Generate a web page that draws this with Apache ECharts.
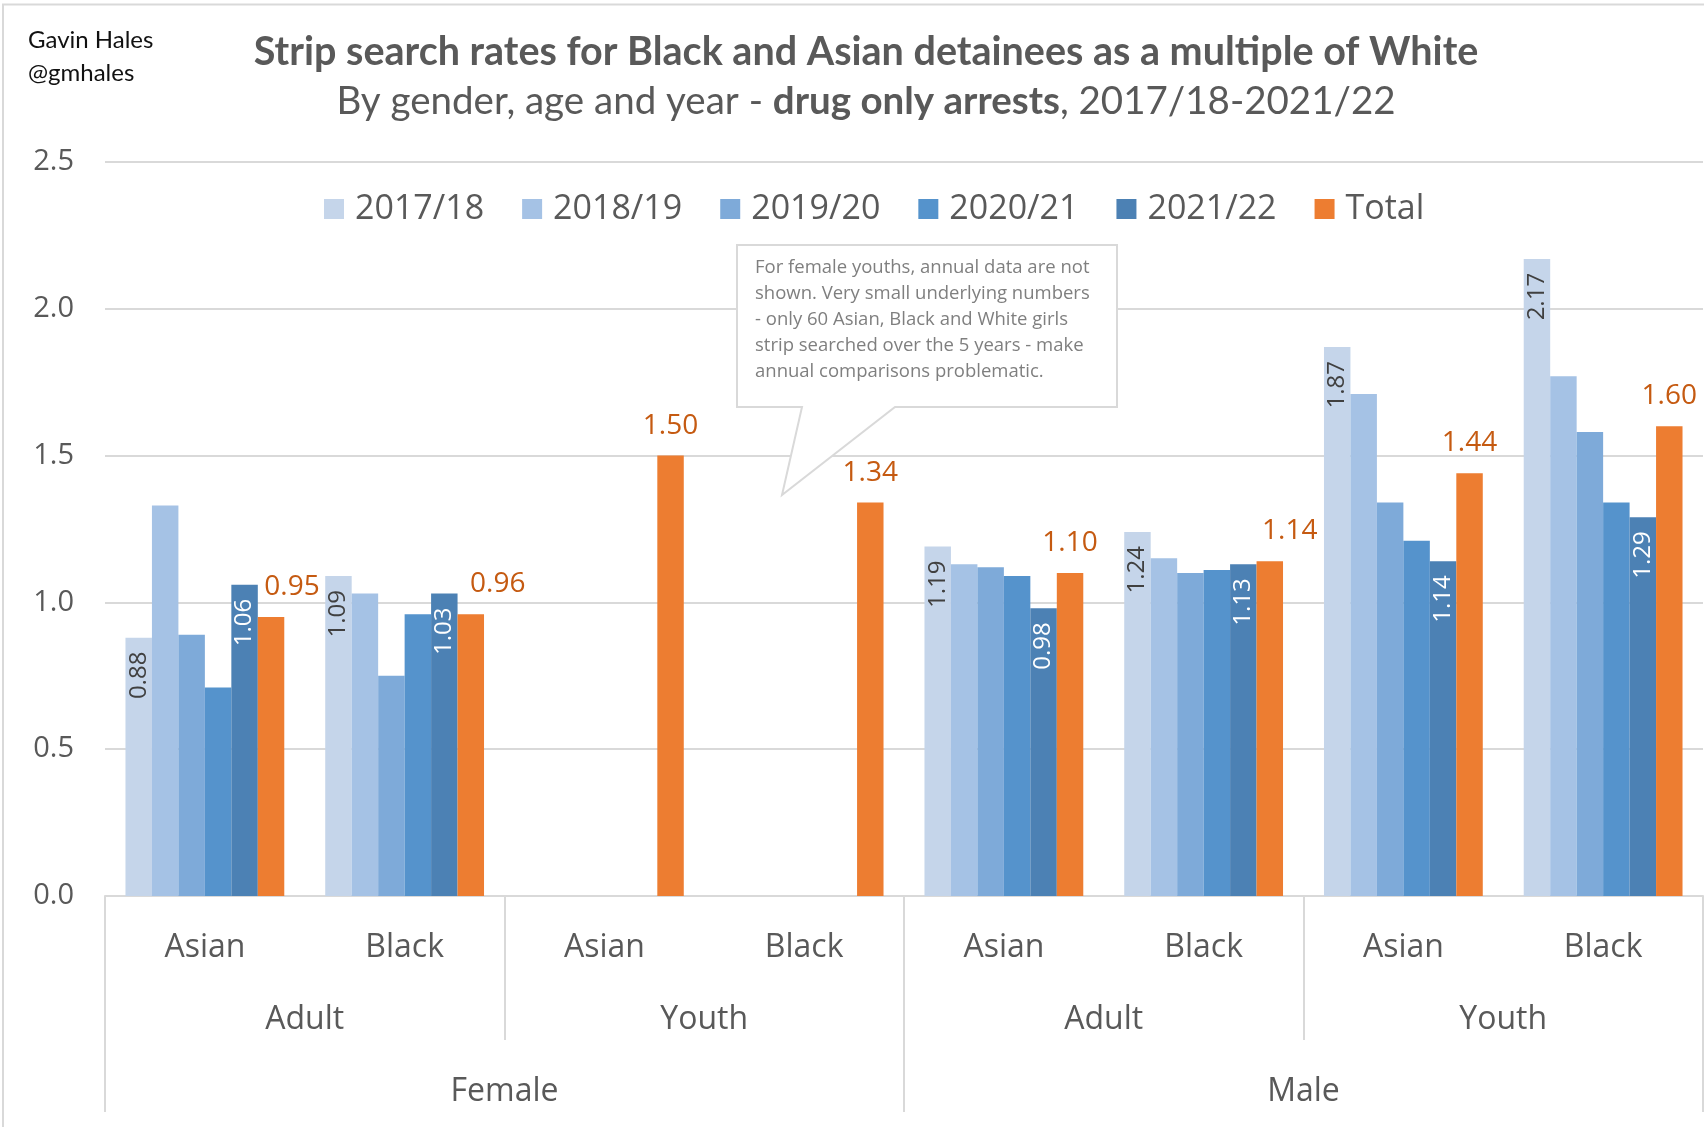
<!DOCTYPE html>
<html>
<head>
<meta charset="utf-8">
<title>Strip search rates</title>
<script src="https://cdn.jsdelivr.net/npm/echarts@6/dist/echarts.min.js"></script>
<style>
    html, body {
        margin: 0;
        padding: 0;
        background: #fff;
    }

    #chart {
        width: 1704px;
        height: 1127px;
    }
</style>
</head>
<body>
<div id="chart"></div>
<script>
// values
const races = ['Asian', 'Black', 'Asian', 'Black', 'Asian', 'Black', 'Asian', 'Black']
const ages = ['Adult', 'Youth', 'Adult', 'Youth']
const genders = ['Female', 'Male']
const years = ['2017/18', '2018/19', '2019/20', '2020/21', '2021/22']

// female youth annual figures are not shown
const y2017 = [0.88, 1.09, null, null, 1.19, 1.24, 1.87, 2.17]
const y2018 = [1.33, 1.03, null, null, 1.13, 1.15, 1.71, 1.77]
const y2019 = [0.89, 0.75, null, null, 1.12, 1.10, 1.34, 1.58]
const y2020 = [0.71, 0.96, null, null, 1.09, 1.11, 1.21, 1.34]
const y2021 = [1.06, 1.03, null, null, 0.98, 1.13, 1.14, 1.29]
const total = [0.95, 0.96, 1.50, 1.34, 1.10, 1.14, 1.44, 1.60]

const yTicks = { min: 0, max: 2.5, step: 0.5 }

const chart = echarts.init(document.getElementById('chart'))

let colors = ['#c5d5ea', '#a5c2e5', '#7eaad9', '#5593cc', '#4c81b4', '#ed7d31']
let yearData = [y2017, y2018, y2019, y2020, y2021]
let font = 'Open Sans'
let grey = '#595959'
let line = '#d9d9d9'

let seriesData = []
yearData.forEach((arr, i) => {
    let s = {
        name: years[i],
        type: 'bar',
        data: arr,
        barGap: 0,
        barCategoryGap: '20.5%',
        itemStyle: { color: colors[i] }
    }
    // first and last year get rotated labels inside the bar
    if (i === 0 || i === 4) {
        s.label = {
            show: true,
            position: 'insideTop',
            distance: 14,
            rotate: 90,
            align: 'right',
            verticalAlign: 'middle',
            fontFamily: font,
            fontSize: 24,
            color: i === 0 ? '#404040' : '#fff',
            formatter: (p) => p.value == null ? '' : p.value.toFixed(2)
        }
    }
    seriesData.push(s)
})

// a few of the total labels were dragged sideways in the original
let nudge = { 0: 21, 1: 27, 5: 20 }
seriesData.push({
    name: 'Total',
    type: 'bar',
    data: total.map((v, i) => {
        return nudge[i] ? { value: v, label: { offset: [nudge[i], 0] } } : v
    }),
    barGap: 0,
    barCategoryGap: '20.5%',
    itemStyle: { color: colors[5] },
    label: {
        show: true,
        position: 'top',
        distance: 16,
        fontFamily: font,
        fontSize: 28,
        color: '#c55a11',
        formatter: (p) => p.value.toFixed(2)
    }
})

chart.setOption({
    animation: false,
    backgroundColor: '#fff',
    title: [
        {
            text: 'Gavin Hales\n@gmhales',
            left: 28,
            top: 24,
            padding: 0,
            textStyle: {
                fontFamily: 'Lato',
                fontWeight: 'normal',
                fontSize: 24,
                lineHeight: 33,
                color: '#111'
            }
        },
        {
            text: 'Strip search rates for Black and Asian detainees as a multiple of White',
            subtext: '{n|By gender, age and year - }{b|drug only arrests}{n|, 2017/18-2021/22}',
            left: 866,
            textAlign: 'center',
            top: 32,
            padding: 0,
            itemGap: 10,
            textStyle: {
                fontFamily: 'Lato',
                fontWeight: 'bold',
                fontSize: 39.5,
                color: grey
            },
            subtextStyle: {
                rich: {
                    n: { fontFamily: 'Lato', fontSize: 38.5, color: grey },
                    b: { fontFamily: 'Lato', fontSize: 38.5, fontWeight: 'bold', color: grey }
                }
            }
        }
    ],
    legend: {
        left: 324,
        top: 192,
        padding: 0,
        icon: 'rect',
        itemWidth: 20,
        itemHeight: 20,
        itemGap: 38,
        textStyle: {
            fontFamily: font,
            fontSize: 34,
            color: grey,
            padding: [0, 0, 0, 6]
        },
        data: years.concat(['Total'])
    },
    grid: {
        left: 105,
        right: 1,
        top: 162,
        bottom: 231,
        containLabel: false,
        outerBoundsMode: 'none'
    },
    xAxis: [
        {
            type: 'category',
            data: races,
            axisLine: { show: true, lineStyle: { color: line, width: 2 } },
            axisTick: { show: false },
            axisLabel: { interval: 0, margin: 36, fontFamily: font, fontSize: 32, color: grey }
        },
        {
            type: 'category',
            data: ages,
            position: 'bottom',
            axisLine: { show: false },
            axisTick: { show: true, interval: 0, length: 144, lineStyle: { color: line, width: 2 } },
            axisLabel: { interval: 0, margin: 108, fontFamily: font, fontSize: 32, color: grey }
        },
        {
            type: 'category',
            data: genders,
            position: 'bottom',
            axisLine: { show: false },
            axisTick: { show: true, interval: 0, length: 216, lineStyle: { color: line, width: 2 } },
            axisLabel: { interval: 0, margin: 180, fontFamily: font, fontSize: 32, color: grey }
        }
    ],
    yAxis: {
        type: 'value',
        min: yTicks.min,
        max: yTicks.max,
        interval: yTicks.step,
        axisLine: { show: false },
        axisTick: { show: false },
        splitLine: { lineStyle: { color: line, width: 2 } },
        axisLabel: {
            margin: 31,
            fontFamily: font,
            fontSize: 29,
            color: grey,
            formatter: (v) => v.toFixed(1)
        }
    },
    graphic: [
        {
            // chart area frame, cut off at right and bottom like the original
            type: 'rect',
            shape: { x: 3, y: 4.5, width: 1800, height: 1300 },
            style: { fill: null, stroke: line, lineWidth: 2 },
            silent: true,
            z: 0
        },
        {
            // callout box with pointer
            type: 'polygon',
            shape: {
                points: [[737, 245], [1117, 245], [1117, 407], [895, 407], [782, 495], [802, 407], [737, 407]]
            },
            style: { fill: '#fff', stroke: line, lineWidth: 2 },
            z: 10
        },
        {
            type: 'text',
            left: 755,
            top: 255,
            z: 11,
            style: {
                text: 'For female youths, annual data are not\nshown. Very small underlying numbers\n- only 60 Asian, Black and White girls\nstrip searched over the 5 years - make\nannual comparisons problematic.',
                font: '18.5px "Open Sans"',
                lineHeight: 26,
                fill: '#7f7f7f'
            }
        }
    ],
    series: seriesData
})

window.addEventListener('resize', function () {
    chart.resize()
})
</script>
</body>
</html>
